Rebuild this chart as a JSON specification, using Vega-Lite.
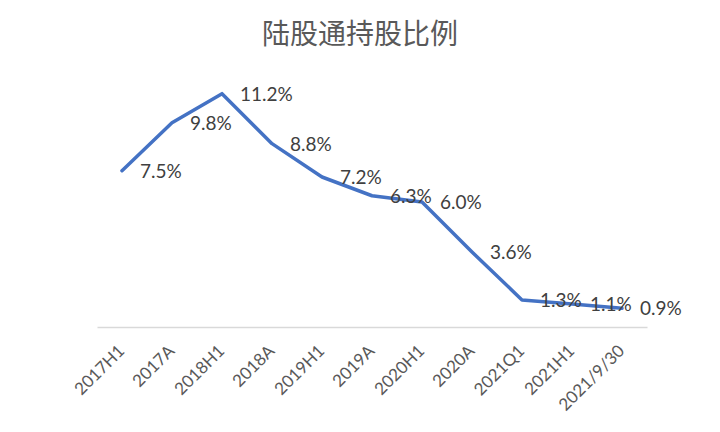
{
  "$schema": "https://vega.github.io/schema/vega-lite/v6.json",
  "width": 550,
  "height": 250,
  "autosize": "none",
  "padding": {"left": 97, "top": 77, "right": 73, "bottom": 105},
  "background": "white",
  "title": {
    "text": "陆股通持股比例",
    "font": "Noto Sans CJK SC",
    "fontSize": 28,
    "fontWeight": "normal",
    "color": "#595959",
    "anchor": "middle",
    "frame": "group",
    "dx": -12,
    "baseline": "bottom",
    "offset": -1
  },
  "data": {
    "values": [
      {"period": "2017H1", "ratio": 0.075},
      {"period": "2017A", "ratio": 0.098},
      {"period": "2018H1", "ratio": 0.112},
      {"period": "2018A", "ratio": 0.088},
      {"period": "2019H1", "ratio": 0.072},
      {"period": "2019A", "ratio": 0.063},
      {"period": "2020H1", "ratio": 0.060},
      {"period": "2020A", "ratio": 0.036},
      {"period": "2021Q1", "ratio": 0.013},
      {"period": "2021H1", "ratio": 0.011},
      {"period": "2021/9/30", "ratio": 0.009}
    ]
  },
  "encoding": {
    "x": {
      "field": "period",
      "type": "ordinal",
      "sort": null,
      "scale": {"type": "band", "paddingInner": 0, "paddingOuter": 0},
      "axis": {
        "title": null,
        "labelAngle": -45,
        "labelAlign": "right",
        "labelBaseline": "middle",
        "labelFont": "Lato",
        "labelFontSize": 17,
        "labelColor": "#595959",
        "labelPadding": 21,
        "ticks": false,
        "domainColor": "#d9d9d9",
        "domainWidth": 1.5,
        "grid": false
      }
    },
    "y": {
      "field": "ratio",
      "type": "quantitative",
      "scale": {"domain": [0, 0.12], "nice": false},
      "axis": null
    }
  },
  "layer": [
    {
      "mark": {"type": "line", "color": "#4472C4", "strokeWidth": 3.5, "strokeCap": "round", "strokeJoin": "round"}
    },
    {
      "mark": {"type": "text", "align": "left", "baseline": "middle", "dx": 18, "dy": 1, "font": "Lato", "fontSize": 19, "color": "#404040"},
      "encoding": {"text": {"field": "ratio", "type": "quantitative", "format": ".1%"}}
    }
  ],
  "config": {"view": {"stroke": null}}
}
